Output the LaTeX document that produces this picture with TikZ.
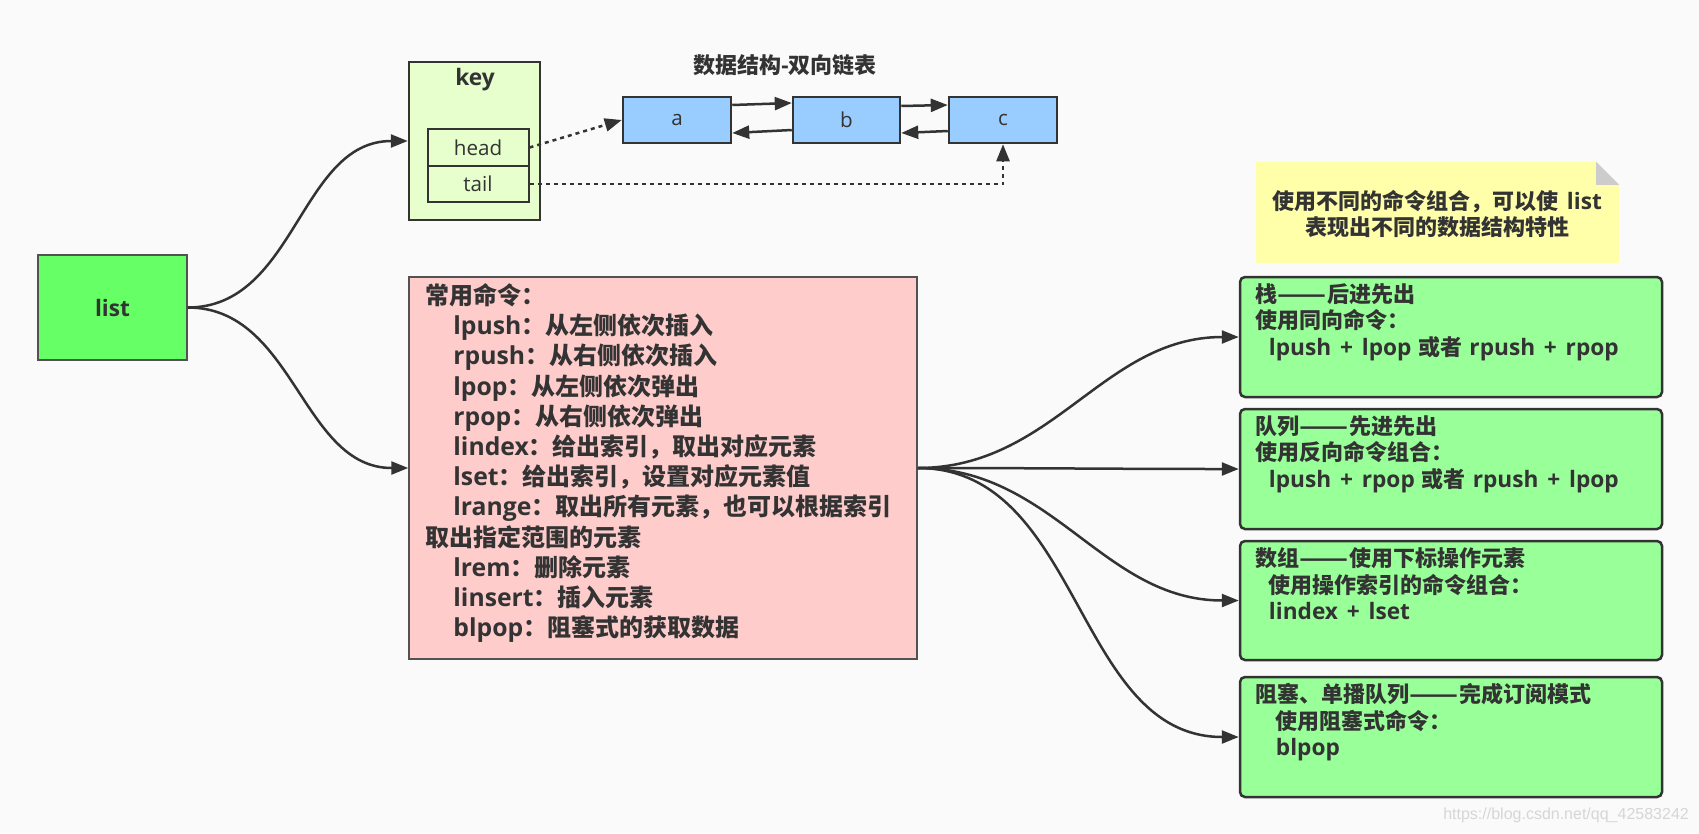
\documentclass[tikz,border=0pt]{standalone}
\usepackage{fontspec}
\usepackage{graphicx}
\setmainfont{Noto Sans CJK SC}
\newfontfamily\latfont{Open Sans}[Scale=1.03, WordSpace=1.5]
\newfontfamily\wmfont{Liberation Sans}
\newcommand{\lt}[1]{{\latfont #1}}
\newcommand{\dd}{\scalebox{1.3}[1]{——}}
\newcommand{\gap}{\hspace{7pt}}
\usetikzlibrary{arrows.meta,calc}
\definecolor{bg}{HTML}{FAFAFA}
\definecolor{line}{HTML}{333333}
\definecolor{txt}{HTML}{333333}
\definecolor{listfill}{HTML}{66FF66}
\definecolor{keyfill}{HTML}{E6FFCC}
\definecolor{llfill}{HTML}{99CCFF}
\definecolor{pinkfill}{HTML}{FFCCCC}
\definecolor{greenfill}{HTML}{99FF99}
\definecolor{notefill}{HTML}{FFFFAA}
\definecolor{foldfill}{HTML}{CCCCCC}
\definecolor{wmcol}{HTML}{D6D6D6}
\newcommand{\firstln}{\rule{0pt}{0.92em}}
\begin{document}
\begin{tikzpicture}[x=1pt,y=-1pt,
  every node/.style={text=txt, inner sep=0pt},
  boldtext/.style={font=\fontsize{22}{26}\selectfont\bfseries},
  regtext/.style={font=\fontsize{20}{24}\selectfont},
  cmdtext/.style={font=\fontsize{24}{30.2}\selectfont\bfseries, align=left, anchor=north west},
  gtext/.style={font=\fontsize{22}{26.3}\selectfont\bfseries, align=left, anchor=north west},
  listbox/.style={draw=line!85, line width=1.5pt, fill=listfill, minimum width=149pt, minimum height=105pt},
  keybox/.style={draw=line, line width=2.5pt, fill=keyfill, minimum width=131pt, minimum height=158pt},
  fieldbox/.style={draw=line, line width=2pt, fill=keyfill, minimum width=101pt},
  llbox/.style={draw=line, line width=2.5pt, fill=llfill, minimum height=46pt},
  pinkbox/.style={draw=line!85, line width=1.5pt, fill=pinkfill, minimum width=508pt, minimum height=382pt},
  greenbox/.style={draw=line, line width=2.5pt, fill=greenfill, rounded corners=5pt, minimum width=422pt},
  conn/.style={draw=line, line width=2.5pt, -{Triangle[length=17pt,width=13pt]}},
  dotconn/.style={draw=line, line width=2.5pt, dash pattern=on 4pt off 4pt, -{Triangle[length=17pt,width=13pt]}}
]
\fill[bg] (0,0) rectangle (1699,833);
\useasboundingbox (0,0) rectangle (1699,833);

% list
\node[listbox, boldtext] (list) at (112.5,307.5) {\lt{list}};

% key
\node[keybox] (key) at (474.5,141) {};
\node[boldtext] (keylabel) at (475,80) {\lt{key}};
\node[fieldbox, minimum height=37pt, regtext] (head) at (478,147.5) {\lt{head}};
\node[fieldbox, minimum height=36pt, regtext] (tail) at (478,184) {\lt{tail}};

% linked list
\node[boldtext] (title) at (785,65) {数据结构\lt{-}双向链表};
\node[llbox, minimum width=108pt, regtext] (a) at (677,120) {\lt{a}};
\node[llbox, minimum width=107pt, regtext] (b) at (846.5,120) {\lt{b}};
\node[llbox, minimum width=108pt, regtext] (c) at (1003,120) {\lt{c}};
\draw[conn] ([yshift=15pt]a.east) -- ([yshift=17pt]b.west);
\draw[conn] ([yshift=-10pt]b.west) -- ([yshift=-13pt]a.east);
\draw[conn] ([yshift=14pt]b.east) -- ([yshift=15pt]c.west);
\draw[conn] ([yshift=-11pt]c.west) -- ([yshift=-13pt]b.east);
\draw[dotconn] (head.east) -- (a.west);
\draw[dotconn] (tail.east) -| (c.south);

% note
\node[minimum width=363pt, minimum height=101pt] (note) at (1437.5,212.5) {};
\fill[notefill] (note.north west) -- ([xshift=-23pt]note.north east) -- ([yshift=-23pt]note.north east) -- (note.south east) -- (note.south west) -- cycle;
\fill[foldfill] ([xshift=-23pt]note.north east) -- ([yshift=-23pt]note.north east) -- ([xshift=-23pt,yshift=-23pt]note.north east) -- cycle;
\node[boldtext, align=center] (notetext) at (1437,214) {使用不同的命令组合，可以使\lt{ list}\\表现出不同的数据结构特性};

% commands
\node[pinkbox] (cmds) at (663,468) {};
\node[cmdtext] (cmdstext) at ($(cmds.north west)+(17,6)$) {\firstln 常用命令：\\
\hspace*{28pt}\lt{lpush}：从左侧依次插入\\
\hspace*{28pt}\lt{rpush}：从右侧依次插入\\
\hspace*{28pt}\lt{lpop}：从左侧依次弹出\\
\hspace*{28pt}\lt{rpop}：从右侧依次弹出\\
\hspace*{28pt}\lt{lindex}：给出索引，取出对应元素\\
\hspace*{28pt}\lt{lset}：给出索引，设置对应元素值\\
\hspace*{28pt}\lt{lrange}：取出所有元素，也可以根据索引\\
取出指定范围的元素\\
\hspace*{28pt}\lt{lrem}：删除元素\\
\hspace*{28pt}\lt{linsert}：插入元素\\
\hspace*{28pt}\lt{blpop}：阻塞式的获取数据};

% green boxes
\node[greenbox, minimum height=120pt] (g1) at (1451,337) {};
\node[greenbox, minimum height=120pt] (g2) at (1451,469) {};
\node[greenbox, minimum height=119pt] (g3) at (1451,600.5) {};
\node[greenbox, minimum height=120pt] (g4) at (1451,737) {};
\node[gtext] (g1t) at ($(g1.north west)+(17,6.5)$) {\firstln 栈\dd 后进先出\\使用同向命令：\\\hspace*{13pt}\lt{lpush + lpop}\gap 或者\gap\lt{rpush + rpop}};
\node[gtext] (g2t) at ($(g2.north west)+(17,6.5)$) {\firstln 队列\dd 先进先出\\使用反向命令组合：\\\hspace*{13pt}\lt{lpush + rpop}\gap 或者\gap\lt{rpush + lpop}};
\node[gtext] (g3t) at ($(g3.north west)+(17,6.5)$) {\firstln 数组\dd 使用下标操作元素\\\hspace*{13pt}使用操作索引的命令组合：\\\hspace*{13pt}\lt{lindex + lset}};
\node[gtext] (g4t) at ($(g4.north west)+(17,6.5)$) {\firstln 阻塞、单播队列\dd 完成订阅模式\\\hspace*{20pt}使用阻塞式命令：\\\hspace*{20pt}\lt{blpop}};

% connectors
\draw[conn] (list.east) to[out=0,in=180] (key.west);
\draw[conn] (list.east) to[out=0,in=180] (cmds.west);
\draw[conn] (cmds.east) to[out=0,in=180] (g1.west);
\draw[conn] (cmds.east) to[out=0,in=180] (g2.west);
\draw[conn] (cmds.east) to[out=0,in=180] (g3.west);
\draw[conn] (cmds.east) to[out=0,in=180] (g4.west);

% watermark
\node[font=\wmfont\fontsize{16}{18}\selectfont, text=wmcol, anchor=east] (wm) at (1689,815) {https://blog.csdn.net/qq\_42583242};
\end{tikzpicture}
\end{document}
